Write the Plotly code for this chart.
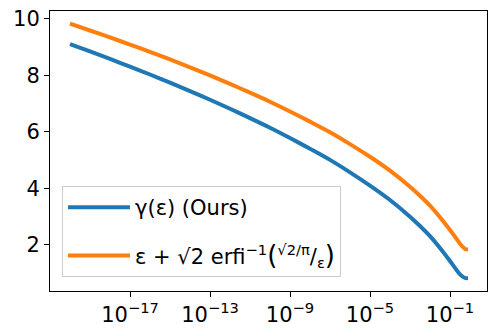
import plotly.graph_objects as go

# epsilon values (x)
eps = [1e-20, 1e-19, 1e-18, 1e-17, 1e-16, 1e-15, 1e-14, 1e-13, 1e-12, 1e-11,
       1e-10, 1e-9, 1e-8, 1e-7, 1e-6, 1e-5, 1e-4, 1e-3, 3.16e-3, 1e-2,
       3.16e-2, 0.1, 0.178, 0.316, 0.562, 0.794]

# gamma(eps) (Ours) - blue
gamma_ours = [9.11, 8.85, 8.585, 8.31, 8.033, 7.745, 7.447, 7.14, 6.82, 6.49,
              6.15, 5.785, 5.404, 5.01, 4.57, 4.10, 3.59, 3.00, 2.67, 2.31,
              1.89, 1.43, 1.19, 0.96, 0.83, 0.82]

# eps + sqrt(2) erfi^-1(sqrt(2/pi)/eps) - orange
erfi_bound = [9.83, 9.59, 9.345, 9.09, 8.833, 8.565, 8.287, 8.00, 7.70, 7.39,
              7.07, 6.725, 6.364, 5.99, 5.57, 5.12, 4.63, 4.06, 3.74, 3.39,
              2.98, 2.53, 2.29, 2.04, 1.86, 1.84]

x_tickvals = [1e-17, 1e-13, 1e-9, 1e-5, 1e-1]
x_ticktext = ["10<sup>\u221217</sup>", "10<sup>\u221213</sup>", "10<sup>\u22129</sup>",
              "10<sup>\u22125</sup>", "10<sup>\u22121</sup>"]
y_tickvals = [2, 4, 6, 8, 10]

name_ours = "\u03b3(\u03b5) (Ours)"
name_bound = ("\u03b5 + \u221a2 erfi<sup>\u22121</sup>"
              "<span style='font-size:26px'>(</span>"
              "<sup>\u221a2/\u03c0</sup>/<sub>\u03b5</sub>"
              "<span style='font-size:26px'>)</span>")

FONT = "DejaVu Sans"

fig = go.Figure()
fig.add_trace(go.Scatter(x=eps, y=gamma_ours, mode="lines", name=name_ours,
                         legendgroup="a",
                         line=dict(color="#1f77b4", width=4, shape="spline",
                                   smoothing=0.8)))
fig.add_trace(go.Scatter(x=eps, y=erfi_bound, mode="lines", name=name_bound,
                         legendgroup="b",
                         line=dict(color="#ff7f0e", width=4, shape="spline",
                                   smoothing=0.8)))

axis_common = dict(showline=True, linecolor="black", linewidth=1, mirror=True,
                   ticks="outside", ticklen=5, tickwidth=1, tickcolor="black",
                   showgrid=False, zeroline=False, automargin=False,
                   ticklabeloverflow="allow",
                   tickfont=dict(family=FONT, size=21, color="black"))

fig.update_xaxes(type="log", range=[-21, 0.85], tickvals=x_tickvals,
                 ticktext=x_ticktext, **axis_common)
fig.update_yaxes(range=[0.37, 10.28], tickvals=y_tickvals, **axis_common)

# the page body adds an 8px offset; margins compensate for it
fig.update_layout(
    width=498, height=336,
    margin=dict(l=42, r=19, t=3, b=53),
    plot_bgcolor="white", paper_bgcolor="white",
    font=dict(family=FONT, size=21, color="black"),
    legend=dict(x=0.0275, y=0.375, xanchor="left", yanchor="top",
                bgcolor="rgba(255,255,255,0.8)", bordercolor="#cccccc",
                borderwidth=1, tracegroupgap=18, itemwidth=62,
                font=dict(family=FONT, size=21, color="black")),
    showlegend=True,
)

fig.write_html("out.html")
